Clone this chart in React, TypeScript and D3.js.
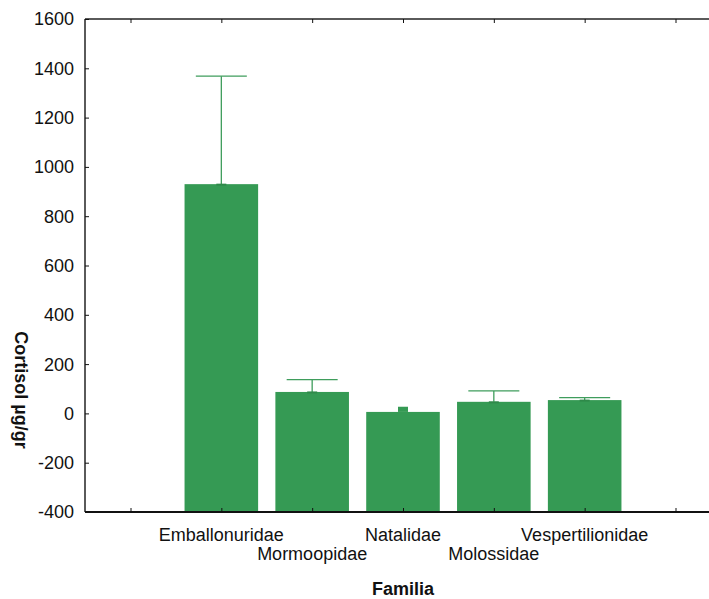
import React, { useEffect, useRef } from "react";
import * as d3 from "d3";

// values
const families = ["Emballonuridae", "Mormoopidae", "Natalidae", "Molossidae", "Vespertilionidae"];
const means = [930, 87, 6, 47, 54];
const errors = [438, 50, 21, 44, 10];
const yTicks = [-400, -200, 0, 200, 400, 600, 800, 1000, 1200, 1400, 1600];
const narrowCaps = ["Natalidae"];

const W = 709;
const H = 599;
const green = "#359a54";
const font = "'Liberation Sans', Arial, sans-serif";

const App = () => {
  const ref = useRef<SVGSVGElement>(null);

  useEffect(() => {
    const svg = d3.select(ref.current);
    svg.selectAll("*").remove();

    const left = 85, top = 19, bottom = 512;
    // one empty slot each side of the families
    const slots = ["_l", ...families, "_r"];
    const x = d3.scalePoint<string>().domain(slots).range([130.5, 675.5]);
    const step = x.step();
    const right = 675.5 + step / 2;
    const barW = step * 0.81;

    const y = d3.scaleLinear().domain([-400, 1600]).range([bottom, top]);

    // bars
    svg
      .append("g")
      .selectAll("rect")
      .data(families)
      .join("rect")
      .attr("x", (d) => x(d)! - barW / 2)
      .attr("y", (d, i) => y(Math.max(0, means[i])))
      .attr("width", barW)
      .attr("height", (d, i) => y(-400) - y(Math.max(0, means[i])))
      .attr("fill", green);

    // upper whiskers
    const wg = svg.append("g").attr("stroke", "#3f9d5c").attr("stroke-width", 1.3);
    families.forEach((f, i) => {
      const cx = x(f)!;
      const y0 = y(means[i]);
      const y1 = y(means[i] + errors[i]);
      if (narrowCaps.includes(f)) {
        wg.append("rect")
          .attr("x", cx - 5)
          .attr("y", y1)
          .attr("width", 10)
          .attr("height", y0 - y1)
          .attr("fill", green)
          .attr("stroke", "none");
        return;
      }
      wg.append("line").attr("x1", cx).attr("x2", cx).attr("y1", y0).attr("y2", y1);
      wg.append("line").attr("x1", cx - 25.5).attr("x2", cx + 25.5).attr("y1", y1).attr("y2", y1);
      wg.append("line")
        .attr("x1", cx - 5)
        .attr("x2", cx + 5)
        .attr("y1", y0 + 0.5)
        .attr("y2", y0 + 0.5)
        .attr("stroke", "#2f8a4a")
        .attr("stroke-width", 2);
    });

    // frame
    svg.append("line")
      .attr("x1", left).attr("x2", left).attr("y1", top).attr("y2", bottom)
      .attr("stroke", "#5a5a5a").attr("stroke-width", 2);
    svg.append("line")
      .attr("x1", left).attr("x2", right).attr("y1", top).attr("y2", top)
      .attr("stroke", "#5a5a5a").attr("stroke-width", 2);
    svg.append("line")
      .attr("x1", left).attr("x2", right).attr("y1", bottom).attr("y2", bottom)
      .attr("stroke", "#111").attr("stroke-width", 2);

    // y axis
    const ya = svg
      .append("g")
      .attr("transform", `translate(${left},0)`)
      .call(d3.axisRight(y).tickValues(yTicks).tickSize(4).tickFormat(() => ""));
    ya.select(".domain").remove();
    ya.selectAll("line").attr("stroke", "#111");

    svg
      .append("g")
      .selectAll("text")
      .data(yTicks)
      .join("text")
      .attr("x", 74)
      .attr("y", (d) => y(d))
      .attr("dy", "0.36em")
      .attr("text-anchor", "end")
      .attr("font-family", font)
      .attr("font-size", 18)
      .attr("fill", "#111")
      .text((d) => d);

    // x axis ticks (bottom, pointing up) and top ticks (pointing down)
    const xb = svg
      .append("g")
      .attr("transform", `translate(0,${bottom})`)
      .call(d3.axisTop(x).tickSize(4).tickFormat(() => ""));
    xb.select(".domain").remove();
    xb.selectAll("line").attr("stroke", "#111");

    const xt = svg
      .append("g")
      .attr("transform", `translate(0,${top})`)
      .call(d3.axisBottom(x).tickSize(4).tickFormat(() => ""));
    xt.select(".domain").remove();
    xt.selectAll("line").attr("stroke", "#111");

    // category labels, staggered on two rows
    svg
      .append("g")
      .selectAll("text")
      .data(families)
      .join("text")
      .attr("x", (d) => x(d)!)
      .attr("y", (d, i) => (i % 2 === 0 ? 541 : 560))
      .attr("text-anchor", "middle")
      .attr("font-family", font)
      .attr("font-size", 18)
      .attr("fill", "#111")
      .text((d) => d);

    svg
      .append("text")
      .attr("x", (left + right) / 2)
      .attr("y", 595)
      .attr("text-anchor", "middle")
      .attr("font-family", font)
      .attr("font-size", 18)
      .attr("font-weight", "bold")
      .attr("fill", "#111")
      .text("Familia");

    svg
      .append("text")
      .attr("transform", "translate(15,390) rotate(90)")
      .attr("text-anchor", "middle")
      .attr("font-family", font)
      .attr("font-size", 18)
      .attr("font-weight", "bold")
      .attr("fill", "#111")
      .text("Cortisol µg/gr");
  }, []);

  return (
    <svg
      ref={ref}
      width={W}
      height={H}
      style={{ position: "absolute", left: 0, top: 0, background: "#fff" }}
    />
  );
};

export default App;
